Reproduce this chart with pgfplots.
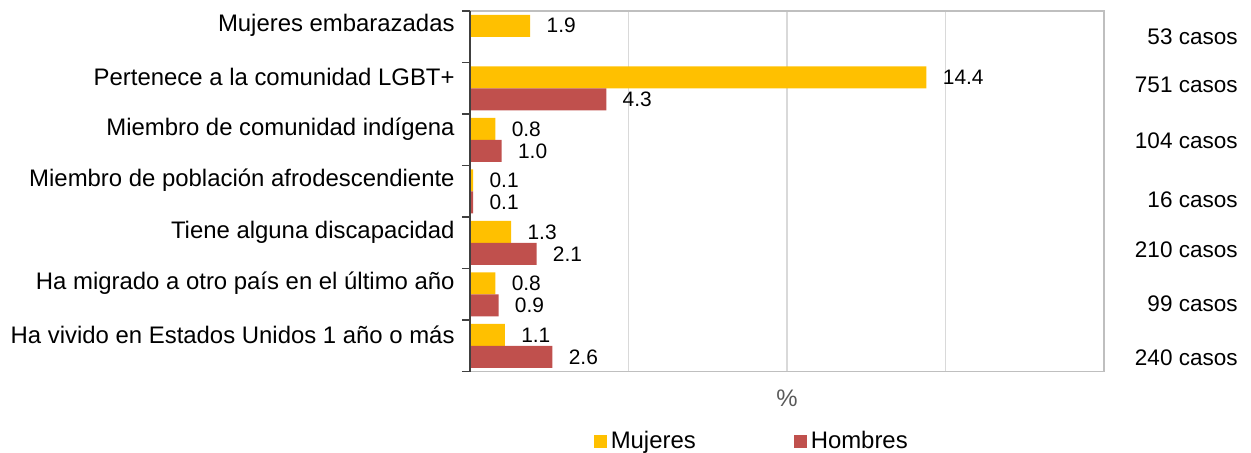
\documentclass[border=0pt]{standalone}
\usepackage{pgfplots}
\pgfplotsset{compat=1.18}
\usepackage{fontspec}
\setmainfont{Liberation Sans}
\definecolor{muj}{HTML}{FFC000}
\definecolor{hom}{HTML}{C0504D}
\definecolor{gridc}{HTML}{D9D9D9}
\definecolor{borderc}{HTML}{BFBFBF}
\definecolor{axisc}{HTML}{404040}
\definecolor{labc}{HTML}{595959}
\begin{document}
\begin{tikzpicture}
\begin{axis}[
  scale only axis, width=317bp, height=180.35bp,
  xbar, bar width=11bp,
  xmin=0, xmax=20, ymin=-0.5, ymax=6.5,
  clip=false,
  axis line style={draw=borderc, line width=0.6bp},
  xtick={0,5,...,20}, xticklabels={}, xtick style={draw=none},
  xmajorgrids, major grid style={draw=gridc, line width=0.8bp},
  ytick pos=left,
  ytick={6.214,5.214,4.214,3.214,2.214,1.214,0.214},
  yticklabels={Mujeres embarazadas, Pertenece a la comunidad LGBT+, Miembro de comunidad indígena, Miembro de población afrodescendiente, Tiene alguna discapacidad, Ha migrado a otro país en el último año, Ha vivido en Estados Unidos 1 año o más},
  ytick style={draw=none}, major tick length=0pt,
  yticklabel style={anchor=east, inner sep=0pt, xshift=-7.5bp, font=\fontsize{12}{14}\selectfont, text=black},
  extra y ticks={-0.5,0.5,1.5,2.5,3.5,4.5,5.5,6.5},
  extra y tick labels={},
  extra y tick style={ytick pos=left, major tick length=4bp, tick align=outside, ytick style={draw=axisc, line width=0.8bp}, ymajorgrids=false},
  /pgf/number format/.cd, fixed, fixed zerofill, precision=1, assume math mode=true, /pgfplots/.cd,
  nodes near coords,
  nodes near coords style={anchor=west, inner sep=0pt, xshift=8bp, font=\fontsize{10.5}{12}\selectfont, text=black},
  xlabel={\%},
  xlabel style={at={(axis description cs:0.5,-0.073)}, anchor=center, font=\fontsize{12}{14}\selectfont, text=labc},
  legend columns=2,
  legend style={at={(axis description cs:0.446,-0.194)}, anchor=center, draw=none, fill=none, inner sep=0pt,
    font=\fontsize{12}{14}\selectfont, /tikz/every even column/.append style={column sep=47bp}},
  legend image code/.code={\path[#1, draw=none] (0bp,-3.25bp) rectangle (6.5bp,3.25bp);},
]
\addplot[fill=muj, draw=none, bar shift=5.5bp] coordinates {
 (1.9,6) (14.4,5) (0.8,4) (0.1,3) (1.3,2) (0.8,1) (1.1,0)};
\addplot[fill=hom, draw=none, bar shift=-5.5bp] coordinates {
 (4.3,5) (1.0,4) (0.1,3) (2.1,2) (0.9,1) (2.6,0)};
\legend{Mujeres, Hombres}
\draw[axisc, line width=0.8bp] (rel axis cs:0,0) -- (rel axis cs:0,1);
\begin{scope}[every node/.style={anchor=east, inner sep=0pt, xshift=67bp, font=\fontsize{11.3}{13}\selectfont, text=black}]
\node at (axis cs:20,6.0) {53 casos};
\node at (axis cs:20,5.06) {751 casos};
\node at (axis cs:20,3.99) {104 casos};
\node at (axis cs:20,2.84) {16 casos};
\node at (axis cs:20,1.87) {210 casos};
\node at (axis cs:20,0.82) {99 casos};
\node at (axis cs:20,-0.23) {240 casos};
\end{scope}
\coordinate (bbSW) at (rel axis cs:0,0);
\coordinate (bbNE) at (rel axis cs:1,1);
\end{axis}
\pgfresetboundingbox
\path[use as bounding box] ([shift={(-235bp,-40.65bp)}]bbSW) rectangle ([shift={(73.5bp,5.5bp)}]bbNE);
\end{tikzpicture}
\end{document}
